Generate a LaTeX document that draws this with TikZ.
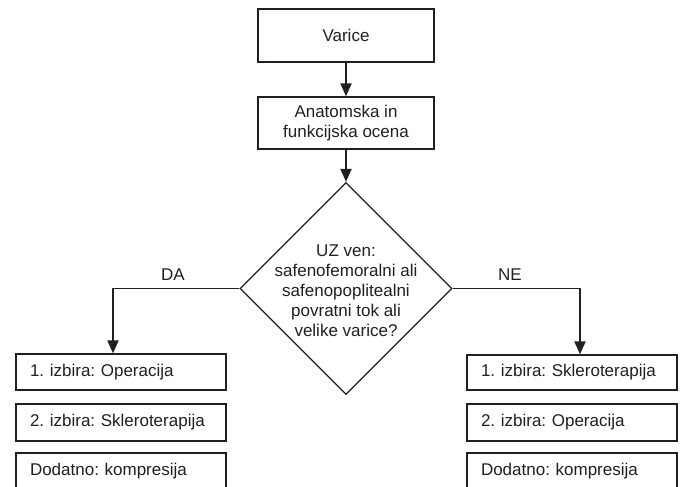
\documentclass[tikz,border=0pt]{standalone}
\usepackage{fontspec}
\setmainfont{Liberation Sans}
\usetikzlibrary{arrows.meta,shapes.geometric}
\definecolor{ink}{HTML}{231F20}
\frenchspacing
\begin{document}
\begin{tikzpicture}[x=1pt,y=1pt,
  every node/.style={font=\fontsize{17}{20}\selectfont, text=ink},
  box/.style={draw=ink, line width=1.2pt, inner sep=0pt},
  optbox/.style={box, minimum width=210, text width=182, inner xsep=14, align=left},
  conn/.style={draw=ink, line width=1.9pt, -{Triangle[width=11pt,length=13pt]}},
  lbl/.style={inner sep=0pt}]
\useasboundingbox (0,0) rectangle (680,487);
\clip (0,0) rectangle (680,487);
\fill[white] (0,0) rectangle (680,487);

\node[box, minimum width=176, minimum height=53] (v) at (346,451.5) {Varice};
\node[box, minimum width=176, minimum height=52, align=center] (a) at (346,364) {Anatomska in\\funkcijska ocena};
\node[diamond, draw=ink, line width=1.2pt, minimum width=212, minimum height=212, inner sep=0pt] (d) at (346,198.5) {};
\node[lbl, align=center] (dt) at (346,196.5) {UZ ven:\\safenofemoralni ali\\safenopoplitealni\\povratni tok ali\\velike varice?};

\node[optbox, minimum height=36] (l1) at (121,115) {1. izbira: Operacija};
\node[optbox, minimum height=37] (l2) at (121,64.5) {2. izbira: Skleroterapija};
\node[optbox, minimum height=36] (l3) at (121,16) {Dodatno: kompresija};

\node[optbox, minimum height=35] (r1) at (572,114.5) {1. izbira: Skleroterapija};
\node[optbox, minimum height=37] (r2) at (572,64.5) {2. izbira: Operacija};
\node[optbox, minimum height=36] (r3) at (572,16) {Dodatno: kompresija};

\node[lbl] (da) at (173,212) {DA};
\node[lbl] (ne) at (510,212) {NE};

\draw[conn] (v.south) -- (a.north);
\draw[conn] (a.south) -- (d.north);
\draw[conn] (d.west) -| ([xshift=-8pt]l1.north);
\draw[conn] (d.east) -| ([xshift=8pt]r1.north);
\end{tikzpicture}
\end{document}
